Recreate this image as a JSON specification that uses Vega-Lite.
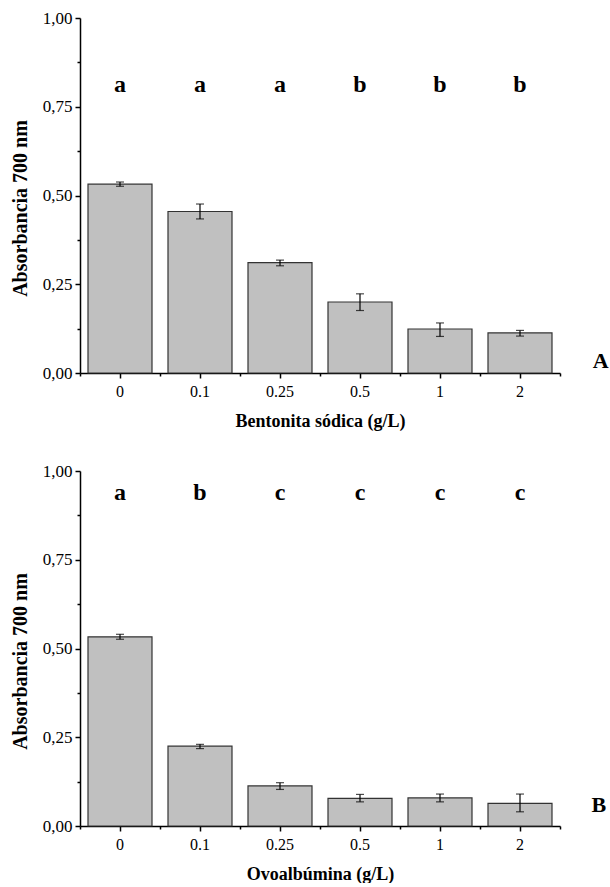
{
  "$schema": "https://vega.github.io/schema/vega-lite/v6.json",
  "padding": {"left": 10, "top": 9, "right": 0, "bottom": 0},
  "spacing": 32,
  "config": {
    "view": {"stroke": null},
    "font": "Liberation Serif, Times New Roman, serif",
    "axis": {
      "grid": false,
      "domainColor": "black",
      "domainWidth": 1.5,
      "tickColor": "black",
      "tickWidth": 1.5,
      "labelFont": "Liberation Serif, Times New Roman, serif",
      "labelFontSize": 16,
      "labelColor": "black",
      "titleFont": "Liberation Serif, Times New Roman, serif",
      "titleFontSize": 18,
      "titleFontWeight": "bold",
      "titleColor": "black"
    }
  },
  "datasets": {
    "A": [
      {"conc": "0", "mean": 0.532, "lo": 0.526, "hi": 0.538, "letter": "a"},
      {"conc": "0.1", "mean": 0.455, "lo": 0.434, "hi": 0.476, "letter": "a"},
      {"conc": "0.25", "mean": 0.311, "lo": 0.302, "hi": 0.318, "letter": "a"},
      {"conc": "0.5", "mean": 0.200, "lo": 0.176, "hi": 0.223, "letter": "b"},
      {"conc": "1", "mean": 0.124, "lo": 0.103, "hi": 0.141, "letter": "b"},
      {"conc": "2", "mean": 0.113, "lo": 0.104, "hi": 0.120, "letter": "b"}
    ],
    "B": [
      {"conc": "0", "mean": 0.533, "lo": 0.526, "hi": 0.540, "letter": "a"},
      {"conc": "0.1", "mean": 0.225, "lo": 0.218, "hi": 0.230, "letter": "b"},
      {"conc": "0.25", "mean": 0.113, "lo": 0.103, "hi": 0.122, "letter": "c"},
      {"conc": "0.5", "mean": 0.078, "lo": 0.068, "hi": 0.089, "letter": "c"},
      {"conc": "1", "mean": 0.079, "lo": 0.068, "hi": 0.090, "letter": "c"},
      {"conc": "2", "mean": 0.064, "lo": 0.040, "hi": 0.090, "letter": "c"}
    ]
  },
  "vconcat": [
    {
      "width": 480,
      "height": 355,
      "data": {"name": "A"},
      "title": {"text": "A", "orient": "right", "anchor": "end", "angle": 0, "align": "left", "baseline": "alphabetic", "offset": 16, "fontSize": 22, "fontWeight": "bold", "font": "Liberation Serif, Times New Roman, serif", "color": "black", "dy": -62},
      "layer": [
        {
          "mark": {"type": "bar", "fill": "#c0c0c0", "stroke": "#333333", "strokeWidth": 1.2, "width": {"band": 0.8}},
          "encoding": {
            "x": {"field": "conc", "type": "ordinal", "sort": null, "scale": {"paddingInner": 0, "paddingOuter": 0},
                  "axis": {"title": "Bentonita sódica (g/L)", "labelAngle": 0, "tickSize": 5, "labelPadding": 5, "titlePadding": 13}},
            "y": {"field": "mean", "type": "quantitative", "scale": {"domain": [0, 1]},
                  "axis": {"title": "Absorbancia 700 nm", "titleFontSize": 20, "titleY": 190, "values": [0, 0.25, 0.5, 0.75, 1], "labelExpr": "replace(format(datum.value, '.2f'), '.', ',')", "tickSize": 5, "labelPadding": 3, "labelFontSize": 17, "titlePadding": 12}}
          }
        },
        {
          "mark": {"type": "errorbar", "ticks": {"size": 8, "color": "black", "thickness": 1.2}, "color": "black", "thickness": 1.2},
          "encoding": {
            "x": {"field": "conc", "type": "ordinal", "sort": null, "axis": null},
            "y": {"field": "lo", "type": "quantitative", "axis": null},
            "y2": {"field": "hi"}
          }
        },
        {
          "mark": {"type": "text", "fontSize": 24, "fontWeight": "bold", "font": "Liberation Serif, Times New Roman, serif", "baseline": "middle", "color": "black"},
          "encoding": {
            "x": {"field": "conc", "type": "ordinal", "sort": null, "axis": null},
            "y": {"datum": 0.81, "axis": null},
            "text": {"field": "letter"}
          }
        },
        {
          "mark": {"type": "point", "opacity": 0},
          "encoding": {
            "x": {"field": "conc", "type": "ordinal", "sort": null,
                  "axis": {"orient": "bottom", "title": null, "labels": false, "domain": false, "tickBand": "extent", "tickSize": 3}},
            "y": {"field": "mean", "type": "quantitative",
                  "axis": {"orient": "left", "title": null, "labels": false, "domain": false, "values": [0.125, 0.375, 0.625, 0.875], "tickSize": 3}}
          }
        }
      ],
      "resolve": {"axis": {"x": "independent", "y": "independent"}}
    },
    {
      "width": 480,
      "height": 355,
      "data": {"name": "B"},
      "title": {"text": "B", "orient": "right", "anchor": "end", "angle": 0, "align": "left", "baseline": "alphabetic", "offset": 16, "fontSize": 22, "fontWeight": "bold", "font": "Liberation Serif, Times New Roman, serif", "color": "black", "dy": -71},
      "layer": [
        {
          "mark": {"type": "bar", "fill": "#c0c0c0", "stroke": "#333333", "strokeWidth": 1.2, "width": {"band": 0.8}},
          "encoding": {
            "x": {"field": "conc", "type": "ordinal", "sort": null, "scale": {"paddingInner": 0, "paddingOuter": 0},
                  "axis": {"title": "Ovoalbúmina (g/L)", "labelAngle": 0, "tickSize": 5, "labelPadding": 5, "titlePadding": 13}},
            "y": {"field": "mean", "type": "quantitative", "scale": {"domain": [0, 1]},
                  "axis": {"title": "Absorbancia 700 nm", "titleFontSize": 20, "titleY": 190, "values": [0, 0.25, 0.5, 0.75, 1], "labelExpr": "replace(format(datum.value, '.2f'), '.', ',')", "tickSize": 5, "labelPadding": 3, "labelFontSize": 17, "titlePadding": 12}}
          }
        },
        {
          "mark": {"type": "errorbar", "ticks": {"size": 8, "color": "black", "thickness": 1.2}, "color": "black", "thickness": 1.2},
          "encoding": {
            "x": {"field": "conc", "type": "ordinal", "sort": null, "axis": null},
            "y": {"field": "lo", "type": "quantitative", "axis": null},
            "y2": {"field": "hi"}
          }
        },
        {
          "mark": {"type": "text", "fontSize": 24, "fontWeight": "bold", "font": "Liberation Serif, Times New Roman, serif", "baseline": "middle", "color": "black"},
          "encoding": {
            "x": {"field": "conc", "type": "ordinal", "sort": null, "axis": null},
            "y": {"datum": 0.939, "axis": null},
            "text": {"field": "letter"}
          }
        },
        {
          "mark": {"type": "point", "opacity": 0},
          "encoding": {
            "x": {"field": "conc", "type": "ordinal", "sort": null,
                  "axis": {"orient": "bottom", "title": null, "labels": false, "domain": false, "tickBand": "extent", "tickSize": 3}},
            "y": {"field": "mean", "type": "quantitative",
                  "axis": {"orient": "left", "title": null, "labels": false, "domain": false, "values": [0.125, 0.375, 0.625, 0.875], "tickSize": 3}}
          }
        }
      ],
      "resolve": {"axis": {"x": "independent", "y": "independent"}}
    }
  ]
}
